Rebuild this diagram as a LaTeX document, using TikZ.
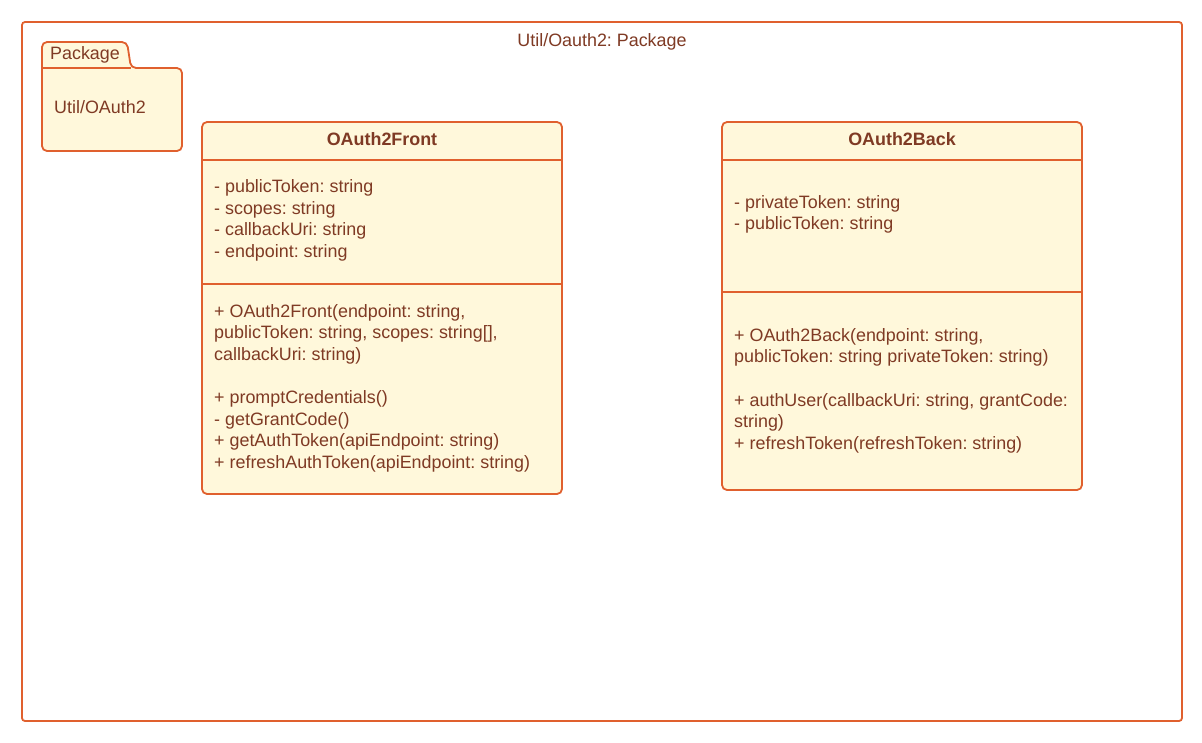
\documentclass[tikz,border=0pt]{standalone}
\usepackage{fontspec}
\setmainfont{Liberation Sans}
\definecolor{stroke}{HTML}{E0602E}
\definecolor{cream}{HTML}{FFF8DB}
\definecolor{ink}{HTML}{7F3A24}
\frenchspacing
\begin{document}
\begin{tikzpicture}[x=1pt,y=-1pt,
  box/.style={draw=stroke,line width=1.8pt,fill=cream,rounded corners=5pt},
  sep/.style={draw=stroke,line width=1.8pt},
  txt/.style={anchor=base west,inner sep=0pt,text=ink,font=\fontsize{17.9}{21}\selectfont\frenchspacing},
  ttl/.style={anchor=base,inner sep=0pt,text=ink,font=\fontsize{17.9}{21}\selectfont\bfseries}]
\useasboundingbox (0,0) rectangle (1202,742);
% outer frame
\draw[draw=stroke,line width=1.8pt,fill=white,rounded corners=3pt] (22,22) rectangle (1182,721);
\node[anchor=base,inner sep=0pt,text=ink,font=\fontsize{17.9}{21}\selectfont\frenchspacing] (frametitle) at (602,46) {Util/Oauth2: Package};
% package folder
\filldraw[draw=stroke,line width=1.8pt,fill=cream,rounded corners=5pt]
  (42,68) -- (42,42) -- (127,42) -- (131,68) -- (182,68) -- (182,151) -- (42,151) -- cycle;
\draw[sep] (42,68) -- (131,68);
\node[txt] (pkglabel) at (50,59) {Package};
\node[txt] (pkgname) at (54,113) {Util/OAuth2};
% OAuth2Front
\draw[box] (202,122) rectangle (562,494);
\draw[sep] (202,160) -- (562,160);
\draw[sep] (202,284) -- (562,284);
\node[ttl] (fronttitle) at (382,145) {OAuth2Front};
\node[txt] (fa1) at (214,192) {- publicToken: string};
\node[txt] (fa2) at (214,214) {- scopes: string};
\node[txt] (fa3) at (214,235) {- callbackUri: string};
\node[txt] (fa4) at (214,257) {- endpoint: string};
\node[txt] (fm1) at (214,317) {+ OAuth2Front(endpoint: string,};
\node[txt] (fm2) at (214,338) {publicToken: string, scopes: string[],};
\node[txt] (fm3) at (214,360) {callbackUri: string)};
\node[txt] (fm4) at (214,403) {+ promptCredentials()};
\node[txt] (fm5) at (214,425) {- getGrantCode()};
\node[txt] (fm6) at (214,446) {+ getAuthToken(apiEndpoint: string)};
\node[txt] (fm7) at (214,468) {+ refreshAuthToken(apiEndpoint: string)};
% OAuth2Back
\draw[box] (722,122) rectangle (1082,490);
\draw[sep] (722,160) -- (1082,160);
\draw[sep] (722,292) -- (1082,292);
\node[ttl] (backtitle) at (902,145) {OAuth2Back};
\node[txt] (ba1) at (734,208) {- privateToken: string};
\node[txt] (ba2) at (734,229) {- publicToken: string};
\node[txt] (bm1) at (734,341) {+ OAuth2Back(endpoint: string,};
\node[txt] (bm2) at (734,362) {publicToken: string privateToken: string)};
\node[txt] (bm3) at (734,406) {+ authUser(callbackUri: string, grantCode:};
\node[txt] (bm4) at (734,427) {string)};
\node[txt] (bm5) at (734,449) {+ refreshToken(refreshToken: string)};
\end{tikzpicture}
\end{document}
